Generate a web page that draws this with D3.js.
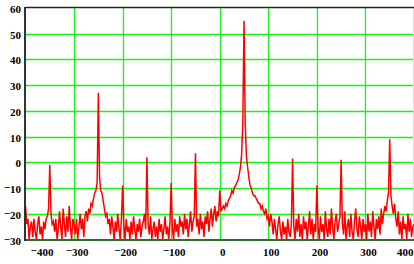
<!DOCTYPE html>
<html>
<head>
<meta charset="utf-8">
<script src="https://cdn.jsdelivr.net/npm/d3@7"></script>
<style>
  html, body { margin: 0; padding: 0; background: #ffffff; }
  svg { display: block; }
  text { font-family: "Liberation Serif", "Times New Roman", serif; font-weight: bold; font-size: 11px; fill: #000; }
</style>
</head>
<body>
<div id="chart"></div>
<script>
// ---- data ----
const xStart = -400;
const xStep = 2.5;
const spectrum = [
  -17, -24, -22, -30, -25, -23, -29, -22, -27, -30, -24, -21, -28, -25, -30, -23, -26, -22, -21, -18,
  -1, -20, -24, -23, -27, -22, -30, -26, -19, -25, -30, -18, -24, -29, -21, -27, -17, -25, -30, -22,
  -24, -28, -22, -30, -25, -20, -26, -22, -29, -21, -19, -23, -18, -20, -16, -17, -14, -12, -11, -8,
  27, -6, -11, -12, -15, -18, -21, -20, -24, -22, -28, -21, -25, -30, -23, -27, -20, -26, -30, -22,
  -9, -24, -30, -22, -27, -25, -30, -23, -28, -21, -26, -30, -24, -27, -22, -29, -25, -23, -20, -26,
  2, -24, -28, -21, -30, -26, -23, -29, -25, -30, -22, -27, -24, -30, -26, -21, -28, -25, -30, -23,
  -8, -26, -30, -22, -27, -24, -29, -21, -25, -23, -28, -20, -26, -22, -29, -24, -19, -27, -23, -21,
  3.5, -25, -22, -28, -20, -26, -23, -29, -21, -24, -19, -27, -22, -18, -25, -20, -17, -23, -19, -21,
  -11, -19, -18, -17, -18, -16, -17, -15, -14, -13, -11, -12, -10, -9, -8, -7, -5, -2, 3, 15,
  55, 15, 2, -2, -6, -9, -10, -12, -13, -13, -14, -15, -16, -16, -18, -17, -19, -20, -18, -22,
  -21, -25, -20, -23, -28, -22, -26, -30, -24, -21, -27, -30, -23, -28, -25, -30, -22, -27, -29, -24,
  1.5, -25, -30, -22, -27, -20, -29, -24, -30, -21, -26, -23, -30, -25, -19, -28, -22, -30, -24, -27,
  -9, -25, -30, -21, -27, -24, -30, -19, -26, -29, -22, -28, -18, -25, -30, -23, -20, -27, -24, -21,
  1, -24, -28, -19, -30, -25, -22, -29, -20, -27, -30, -23, -18, -26, -29, -21, -25, -30, -22, -27,
  -24, -30, -20, -27, -23, -29, -19, -25, -30, -22, -26, -21, -28, -18, -24, -20, -17, -19, -15, -12,
  9, -13, -17, -20, -16, -22, -25, -19, -28, -23, -30, -21, -26, -24, -30, -20, -27, -22, -29, -25,
  -24
];
const xTicks = [-400, -300, -200, -100, 0, 100, 200, 300, 400];
const xGrid = [-300, -200, -100, 0, 100, 200, 300];
const yTicks = [60, 50, 40, 30, 20, 10, 0, -10, -20, -30];
const yGrid = [50, 40, 30, 20, 10, 0, -10, -20];

(function () {
// ---- layout ----
const W = 414, H = 264;
const pLeft = 25.5, pRight = 414, pTop = 8, pBottom = 239.5;

const svg = d3.select("#chart").append("svg").attr("width", W).attr("height", H);

const x = d3.scaleLinear().domain([-400, 400]).range([pLeft, pRight]);
const y = d3.scaleLinear().domain([-30, 60]).range([pBottom, pTop]);

const points = spectrum.map((v, i) => [xStart + i * xStep, v]);

// grid
svg.append("g").selectAll("line").data(yGrid).join("line")
  .attr("x1", pLeft).attr("x2", pRight)
  .attr("y1", d => Math.round(y(d)) + 0.5).attr("y2", d => Math.round(y(d)) + 0.5)
  .attr("stroke", "#1af01a").attr("stroke-width", 1.3);
svg.append("g").selectAll("line").data(xGrid).join("line")
  .attr("y1", pTop).attr("y2", pBottom)
  .attr("x1", d => Math.round(x(d)) + 0.5).attr("x2", d => Math.round(x(d)) + 0.5)
  .attr("stroke", "#1af01a").attr("stroke-width", 1.3);

// right faint border
svg.append("line").attr("x1", 413.5).attr("x2", 413.5).attr("y1", pTop).attr("y2", pBottom)
  .attr("stroke", "#dddddd").attr("stroke-width", 1);

// clip
svg.append("clipPath").attr("id", "clip").append("rect")
  .attr("x", pLeft).attr("y", pTop).attr("width", pRight - pLeft).attr("height", pBottom - pTop);

// line
const line = d3.line().x(d => x(d[0])).y(d => y(d[1]));
svg.append("path").datum(points)
  .attr("clip-path", "url(#clip)")
  .attr("d", line)
  .attr("fill", "none").attr("stroke", "#ff0000").attr("stroke-width", 1.5)
  .attr("stroke-linejoin", "miter");

// frame lines
svg.append("line").attr("x1", pLeft).attr("x2", pRight).attr("y1", pTop - 0.5).attr("y2", pTop - 0.5)
  .attr("stroke", "#1d2a1d").attr("stroke-width", 1.6);
svg.append("line").attr("x1", pLeft).attr("x2", pRight).attr("y1", pBottom + 0.5).attr("y2", pBottom + 0.5)
  .attr("stroke", "#2f6a2f").attr("stroke-width", 2);
svg.append("line").attr("x1", pLeft - 0.5).attr("x2", pLeft - 0.5).attr("y1", pTop - 1).attr("y2", pBottom + 1.5)
  .attr("stroke", "#000").attr("stroke-width", 1.6);

// labels with raised minus
function addLabel(g, val, anchor) {
  const t = g.append("text").attr("text-anchor", anchor);
  if (val < 0) {
    t.append("tspan").attr("dy", -2).text("\u2212");
    t.append("tspan").attr("dy", 2).text(String(Math.abs(val)));
  } else {
    t.text(String(val));
  }
  return t;
}

// y labels
yTicks.forEach(v => {
  const g = svg.append("g").attr("transform", `translate(21,${y(v) + 5})`);
  addLabel(g, v, "end");
});

// x labels
xTicks.forEach((v, i) => {
  let px = x(v) + 3, anchor = "middle";
  if (i === 0) px = x(v) + 16.5;
  if (i === xTicks.length - 1) { px = 413.5; anchor = "end"; }
  const g = svg.append("g").attr("transform", `translate(${px},256)`);
  addLabel(g, v, anchor);
});
})();
</script>
</body>
</html>
